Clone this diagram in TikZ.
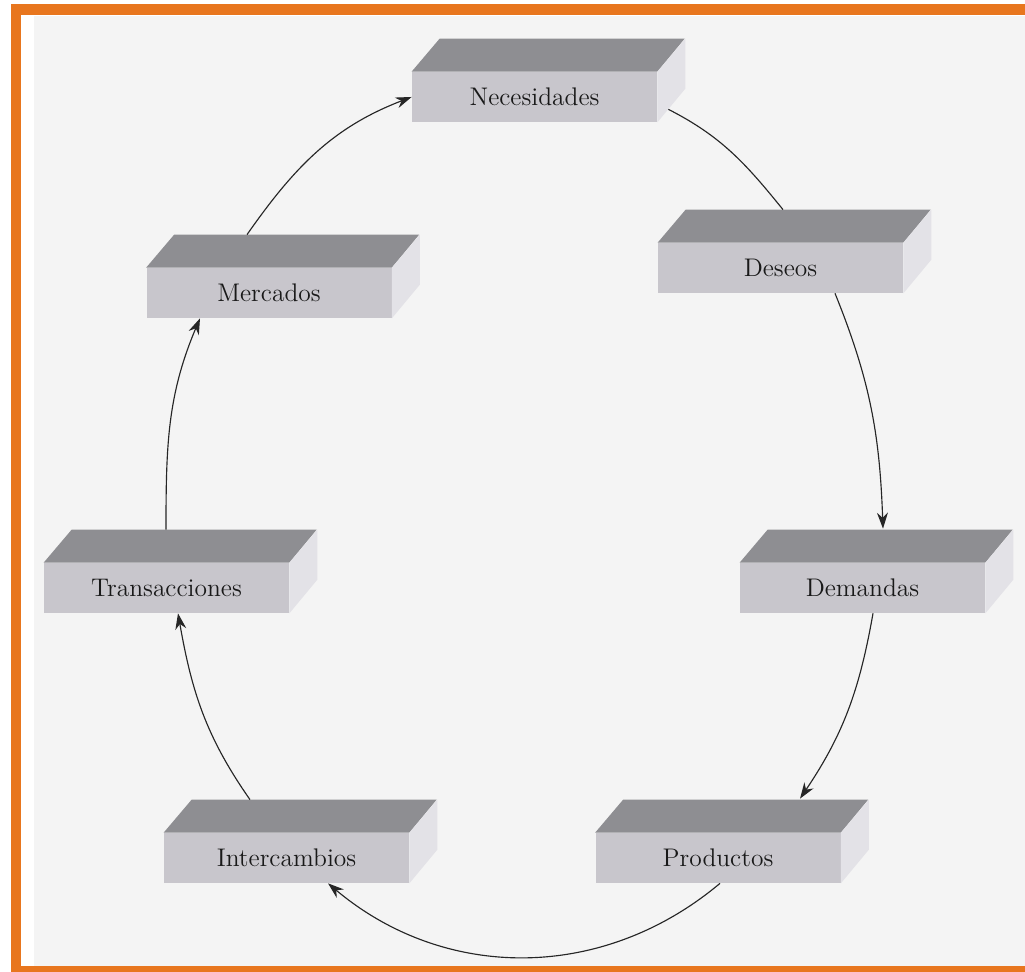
\documentclass[tikz,border=0pt]{standalone}
\usepackage{tikz}
\usetikzlibrary{arrows.meta}

\definecolor{naranja}{HTML}{E8761E}
\definecolor{fondo}{HTML}{F4F4F4}
\definecolor{frente}{HTML}{C8C6CC}
\definecolor{tapa}{HTML}{8E8E92}
\definecolor{lado}{HTML}{E3E2E7}

\begin{document}
\begin{tikzpicture}[caja/.style = {fill=frente, rectangle, minimum width=4.9cm, minimum height=1cm, inner sep=0pt, text=black!90, font=\fontsize{14.5}{17}\selectfont},
    flecha/.style = {line width=0.65pt, black!85, -{Stealth[length=0.32cm, width=0.22cm]}},
    linea/.style = {line width=0.65pt, black!85}]
        % marco
        \useasboundingbox (0,0) rectangle (20.5,19.44);
        \fill[white] (0,0) rectangle (20.5,19.44);
        \fill[naranja] (0.22,0) rectangle (20.5,19.36);
        \fill[white] (0.42,0.12) rectangle (20.5,19.14);
        \fill[fondo] (0.68,0.12) rectangle (20.5,19.12);
        % cajas
        \node[caja] (nec) at (10.69,17.50) {Necesidades};
        \node[caja] (des) at (15.61,14.08) {Deseos};
        \node[caja] (mer) at (5.38,13.58) {Mercados};
        \node[caja] (tra) at (3.33,7.68) {Transacciones};
        \node[caja] (dem) at (17.25,7.68) {Demandas};
        \node[caja] (int) at (5.73,2.28) {Intercambios};
        \node[caja] (pro) at (14.36,2.28) {Productos};
        \foreach \n in {nec,des,mer,tra,dem,int,pro} {
            \fill[tapa] (\n.north west) -- ++(0.56,0.66) -- ++(4.9,0) -- (\n.north east) -- cycle;
            \fill[lado] (\n.north east) -- ++(0.56,0.66) -- ++(0,-1) -- (\n.south east) -- cycle;
        }
        % conectores
        \draw[linea] ([shift={(0.22,0.26)}]nec.south east) to[out=-27, in=129] ([shift={(0.05,0.66)}]des.north);
        \draw[flecha] ([xshift=1.09cm]des.south) to[out=-68, in=92] ([shift={(0.41,0.68)}]dem.north);
        \draw[flecha] ([xshift=0.21cm]dem.south) to[out=-100, in=56] ([shift={(1.64,0.68)}]pro.north);
        \draw[flecha] ([xshift=0.04cm]pro.south) to[out=-140, in=-40] ([xshift=0.83cm]int.south);
        \draw[flecha] ([shift={(-0.73,0.66)}]int.north) to[out=125, in=-80] ([xshift=0.23cm]tra.south);
        \draw[flecha] ([shift={(-0.01,0.66)}]tra.north) to[out=90, in=-113] ([xshift=-1.38cm]mer.south);
        \draw[flecha] ([shift={(-0.44,0.66)}]mer.north) to[out=55, in=-159] (nec.west);
\end{tikzpicture}
\end{document}
